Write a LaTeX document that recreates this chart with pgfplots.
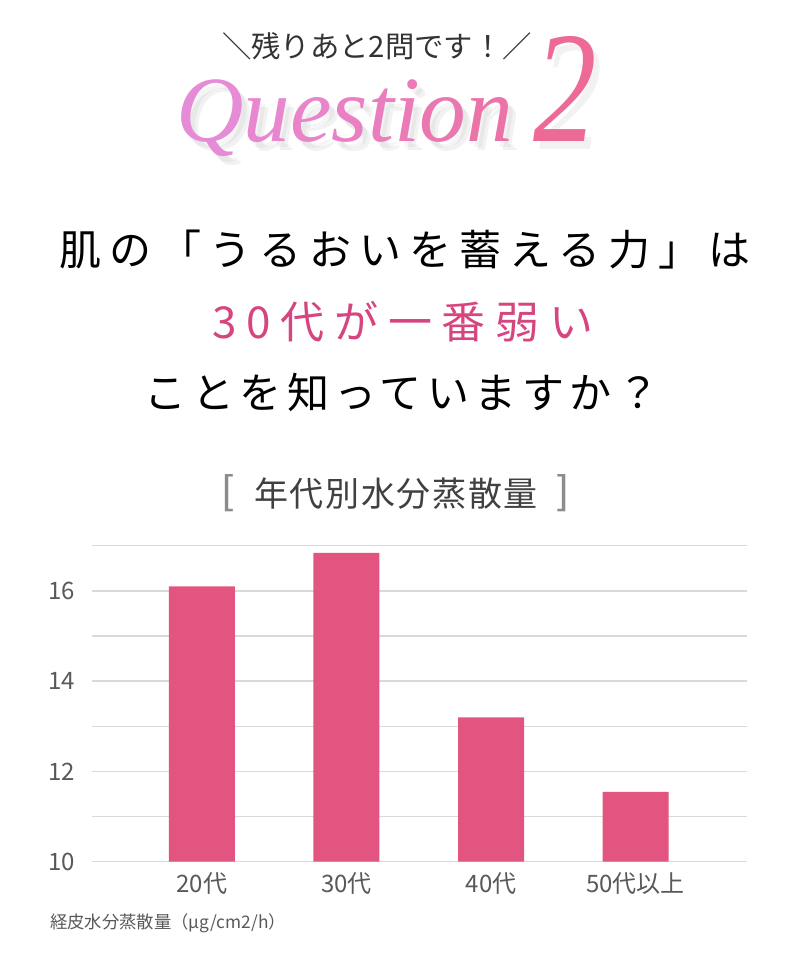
\documentclass[border=0pt]{standalone}
\usepackage{fontspec}
\usepackage{pgfplots}
\pgfplotsset{compat=1.18}
\setmainfont{Noto Sans CJK JP}
\newfontfamily\qfont{Liberation Serif}
\newfontfamily\bfont{Liberation Sans}
\newfontfamily\cjkA[LetterSpace=19]{Noto Sans CJK JP}
\newfontfamily\cjkB[LetterSpace=22]{Noto Sans CJK JP}
\newfontfamily\cjkC[LetterSpace=13]{Noto Sans CJK JP}
\newfontfamily\cjkT[LetterSpace=5]{Noto Sans CJK JP}
\definecolor{barpink}{RGB}{226,85,128}
\definecolor{hlpink}{RGB}{214,69,127}
\definecolor{txtgray}{RGB}{89,89,89}
\definecolor{ttlgray}{RGB}{64,64,64}
\definecolor{gridgray}{RGB}{217,217,217}
\definecolor{q1}{HTML}{E68BD6}
\definecolor{q2}{HTML}{E887D0}
\definecolor{q3}{HTML}{E984CA}
\definecolor{q4}{HTML}{EA80C3}
\definecolor{q5}{HTML}{EA7DBD}
\definecolor{q6}{HTML}{EB7AB7}
\definecolor{q7}{HTML}{EB77B0}
\definecolor{q8}{HTML}{EC73A8}
\definecolor{two}{HTML}{EE6A96}
\begin{document}
\begin{tikzpicture}
\fill[white] (0,0) rectangle (600pt,-722.25pt);
\useasboundingbox (0,0) rectangle (600pt,-722.25pt);
\begin{scope}[x=0.75pt,y=-0.75pt]
% header
\node[anchor=center,text=black!80] at (377,46) {\fontsize{22}{26}\selectfont ＼残りあと2問です！／};
% soft shadows
\node[anchor=base west,inner sep=0pt,text=black,opacity=0.05] at (184,151) {\fontsize{70}{80}\selectfont\qfont\itshape Question};
\node[anchor=base west,inner sep=0pt,text=black,opacity=0.04] at (181,147) {\fontsize{70}{80}\selectfont\qfont\itshape Question};
\node[anchor=base west,inner sep=0pt,text=black,opacity=0.05,xscale=0.8] at (539,150) {\fontsize{119}{130}\selectfont\qfont\itshape 2};
\node[anchor=base west,inner sep=0pt] at (176,142) {\fontsize{70}{80}\selectfont\qfont\itshape\textcolor{q1}{Q}\textcolor{q2}{u}\textcolor{q3}{e}\textcolor{q4}{s}\textcolor{q5}{t}\textcolor{q6}{i}\textcolor{q7}{o}\textcolor{q8}{n}};
\node[anchor=base west,inner sep=0pt,text=two,xscale=0.8] at (533,142) {\fontsize{119}{130}\selectfont\qfont\itshape 2};
% main lines
\node[anchor=center,text=black] at (405,250) {\fontsize{31.5}{36}\selectfont\cjkA 肌の「うるおいを蓄える力」は};
\node[anchor=center,text=hlpink] at (403,322) {\fontsize{33}{38}\selectfont\cjkB 30代が一番弱い};
\node[anchor=center,text=black] at (402,392) {\fontsize{31.5}{36}\selectfont\cjkC ことを知っていますか？};
% chart title
\node[anchor=center,text=ttlgray] at (396,494) {\fontsize{25.5}{30}\selectfont\cjkT 年代別水分蒸散量};
\node[anchor=center,text=black!45] at (228,493) {\fontsize{30}{34}\selectfont\bfont [};
\node[anchor=center,text=black!45] at (563,493) {\fontsize{30}{34}\selectfont\bfont ]};
% axis caption
\node[anchor=west,inner sep=0pt,text=txtgray] at (50,923) {\fontsize{13}{15}\selectfont 経皮水分蒸散量（μg/cm2/h）};
\end{scope}
\begin{axis}[
  at={(69pt,-646.3pt)}, anchor=south west,
  scale only axis, width=491.25pt, height=237pt,
  xmin=-0.76, xmax=3.77, ymin=10, ymax=17,
  ybar, bar width=49.5pt, bar shift=0pt,
  axis line style={draw=none},
  major tick length=0pt, minor tick length=0pt,
  ytick={10,12,14,16}, minor ytick={11,13,15,17},
  ymajorgrids, yminorgrids,
  major grid style={gridgray, line width=1.1pt},
  minor grid style={gridgray, line width=1.1pt},
  xtick={0,1,2,3},
  xticklabels={20代,30代,40代,50代以上},
  /pgf/number format/assume math mode=true,
  ticklabel style={font=\fontsize{18}{21}\selectfont, text=txtgray},
  yticklabel style={inner sep=0pt, xshift=-12.5pt},
  xticklabel style={inner sep=0pt, yshift=-8pt},
  clip=false,
]
\addplot[fill=barpink, draw=none] coordinates {(0,16.1) (1,16.84) (2,13.2) (3,11.55)};
\end{axis}
\end{tikzpicture}
\end{document}
